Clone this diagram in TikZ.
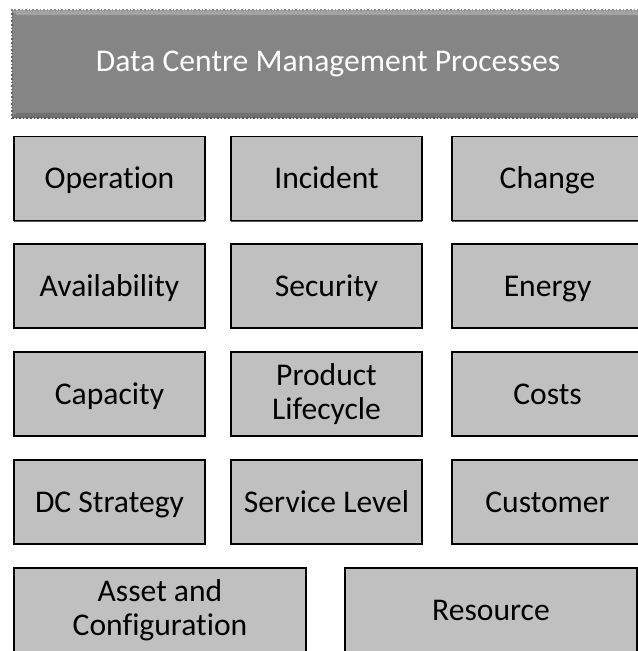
\documentclass[tikz,border=0pt]{standalone}
\usepackage{fontspec}
\setmainfont[Ligatures=NoCommon]{Carlito}
\usepackage{tikz}
\usetikzlibrary{shadows}
\definecolor{boxgray}{HTML}{C0C0C0}
\definecolor{headgray}{HTML}{858585}
\tikzset{
	procbox/.style={draw=black, line width=0.6pt, fill=boxgray, text=black, align=center,
		minimum width=95.5pt, minimum height=42pt, inner sep=0pt,
		font=\fontsize{15.8}{17}\selectfont,
		drop shadow={shadow xshift=0pt, shadow yshift=-0.7pt, fill=black!80, opacity=0.8}},
	onebox/.style={procbox, text height=1.2em, text depth=0.17em},
	widebox/.style={procbox, minimum width=146pt},
	headbox/.style={draw=black!60, densely dotted, line width=0.8pt, fill=headgray, text=white,
		minimum width=316pt, minimum height=54pt, inner sep=0pt}
}

\begin{document}
\begin{tikzpicture}[x=0.5pt, y=-0.5pt]
	\useasboundingbox (0,0) rectangle (637,651);
	% header
	\node[headbox] (head) at (328,64) {};
	\fill[white, opacity=0.25] (head.north west) -- (head.north east) -- ([xshift=-3pt, yshift=-3pt]head.north east) -- ([xshift=3pt, yshift=-3pt]head.north west) -- cycle;
	\fill[black, opacity=0.15] (head.south west) -- (head.south east) -- ([xshift=-3pt, yshift=3pt]head.south east) -- ([xshift=3pt, yshift=3pt]head.south west) -- cycle;
	\node[text=white, font=\fontsize{15.8}{17}\selectfont, text height=0.95em, text depth=0.17em] (headtxt) at (head.center) {Data Centre Management Processes};
	% process boxes
	\node[onebox] (operation) at (109.5,178.5) {Operation};
	\node[onebox] (incident) at (326.5,178.5) {Incident};
	\node[onebox] (change) at (547.5,178.5) {Change};
	\node[onebox] (availability) at (109.5,286) {Availability};
	\node[onebox] (security) at (326.5,286) {Security};
	\node[onebox] (energy) at (547.5,286) {Energy};
	\node[onebox] (capacity) at (109.5,394) {Capacity};
	\node[procbox] (lifecycle) at (326.5,394) {Product\\Lifecycle};
	\node[onebox] (costs) at (547.5,394) {Costs};
	\node[onebox] (strategy) at (109.5,502) {DC Strategy};
	\node[onebox] (servicelevel) at (326.5,502) {Service Level};
	\node[onebox] (customer) at (547.5,502) {Customer};
	\node[widebox] (asset) at (160,610) {Asset and\\Configuration};
	\node[widebox, text height=1.2em, text depth=0.17em] (resource) at (491,610) {Resource};
\end{tikzpicture}
\end{document}
